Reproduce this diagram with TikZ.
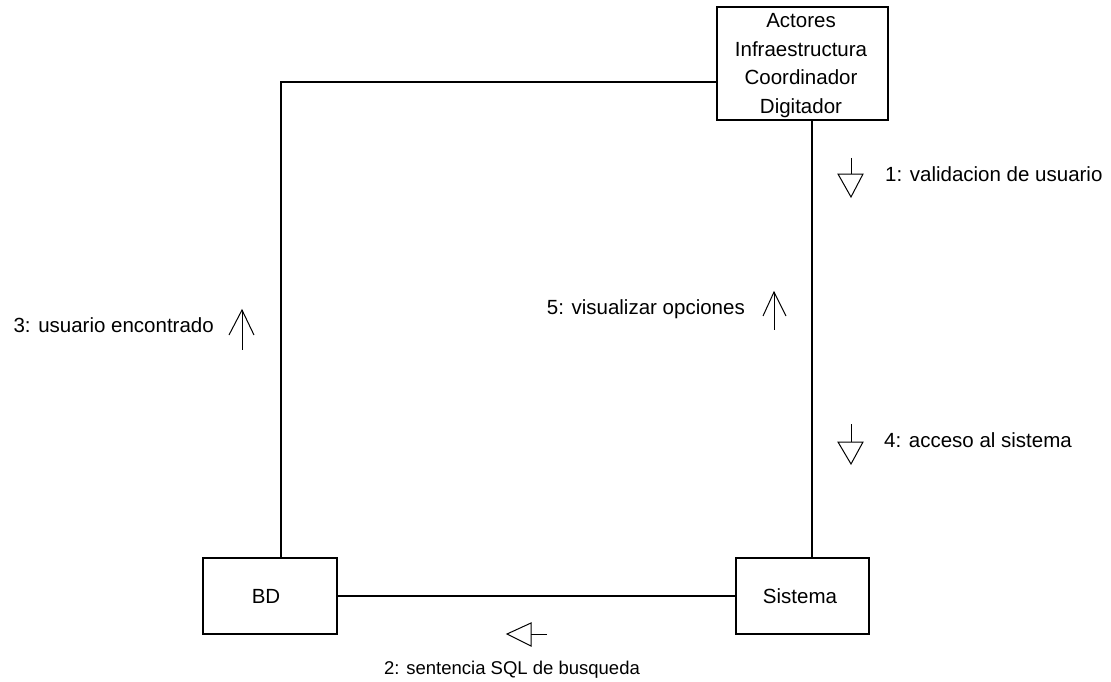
\documentclass[tikz,border=0pt]{standalone}
\usepackage{fontspec}
\setmainfont{Liberation Sans}
\begin{document}
\begin{tikzpicture}[x=1pt,y=-1pt,
  box/.style={draw,line width=1.1pt,inner sep=0pt},
  link/.style={line width=1.1pt},
  txt/.style={font=\fontsize{20.5}{24}\selectfont,inner sep=0pt},
  mark line/.style={line width=1pt}]
\useasboundingbox (0,0) rectangle (1111,682);
% objects
\node[box,minimum width=171pt,minimum height=113pt] (act) at (802.5,63.5) {};
\node[txt,anchor=base] (a1) at (801,28) {Actores};
\node[txt,anchor=base] (a2) at (801,56.5) {Infraestructura};
\node[txt,anchor=base] (a3) at (801,85) {Coordinador};
\node[txt,anchor=base] (a4) at (801,113.5) {Digitador};
\node[box,minimum width=134pt,minimum height=76pt] (bd) at (270,596) {};
\node[txt,anchor=base] (bdt) at (266,603.5) {BD};
\node[box,minimum width=133pt,minimum height=76pt] (sis) at (802.5,596) {};
\node[txt,anchor=base] (sist) at (800,603.5) {Sistema};
% links
\coordinate (corner) at (281,82);
\draw[link] (act.west |- corner) -- (corner) -- (corner |- bd.north);
\draw[link] (812,0 |- act.south) -- (812,0 |- sis.north);
\draw[link] (bd.east) -- (sis.west);
% message 1
\coordinate (m1) at (851,158);
\draw[mark line] (m1) -- ++(0,16);
\draw[mark line] (838,174) -- (863,174) -- (851,197) -- cycle;
\node[txt,anchor=base west] (t1) at (885,182) {1: validacion de usuario};
% message 4
\coordinate (m4) at (851,424);
\draw[mark line] (m4) -- ++(0,18);
\draw[mark line] (838,442) -- (863,442) -- (851,464) -- cycle;
\node[txt,anchor=base west] (t4) at (884,447) {4: acceso al sistema};
% message 5
\coordinate (m5) at (774,292);
\draw[mark line] (m5) -- ++(0,38);
\draw[mark line] (763,316) -- (m5) -- (786,316);
\node[txt,anchor=base east] (t5) at (745,314) {5: visualizar opciones};
% message 3
\coordinate (m3) at (242,310);
\draw[mark line] (m3) -- ++(0,40);
\draw[mark line] (229,335) -- (m3) -- (254,335);
\node[txt,anchor=base east] (t3) at (214,332) {3: usuario encontrado};
% message 2
\coordinate (m2) at (547,634);
\draw[mark line] (m2) -- ++(-16,0);
\draw[mark line] (531,623) -- (507,634) -- (531,646) -- cycle;
\node[txt,anchor=base,font=\fontsize{18.5}{22}\selectfont] (t2) at (512,674) {2: sentencia SQL de busqueda};
\end{tikzpicture}
\end{document}
